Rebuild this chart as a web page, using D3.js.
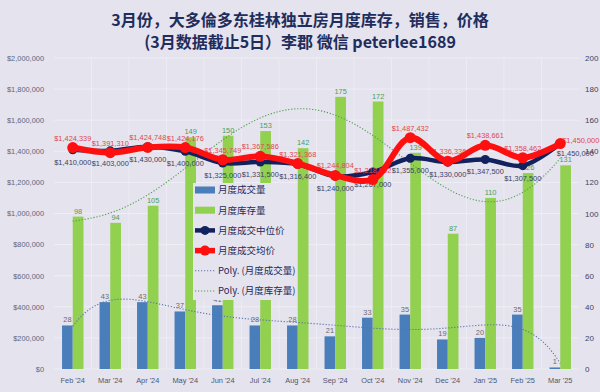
<!DOCTYPE html>
<html>
<head>
<meta charset="utf-8">
<script src="https://cdn.jsdelivr.net/npm/d3@7"></script>
<style>
  body { margin: 0; background: #e5e3ed; }
  svg { display: block; }
</style>
</head>
<body>
<svg id="chart" width="600" height="392"></svg>
<script>
// ---- data ----
const months = ["Feb '24", "Mar '24", "Apr '24", "May '24", "Jun '24", "Jul '24", "Aug '24",
  "Sep '24", "Oct '24", "Nov '24", "Dec '24", "Jan '25", "Feb '25", "Mar '25"];
const sales = [28, 43, 43, 37, 41, 28, 28, 21, 33, 35, 19, 20, 35, 1];
const inventory = [98, 94, 105, 149, 150, 153, 142, 175, 172, 139, 87, 110, 126, 131];
const medianPrice = [1410000, 1403000, 1430000, 1400000, 1325000, 1331500, 1316400,
  1240000, 1267000, 1355000, 1330000, 1347500, 1307500, 1450000];
const avgPrice = [1424339, 1391310, 1424748, 1424176, 1345749, 1367586, 1321368,
  1244804, 1218552, 1487432, 1336336, 1438661, 1358462, 1450000];
const priceTicks = d3.range(0, 2000001, 200000);
const countTicks = d3.range(0, 201, 20);
const titleLines = ["3月份，大多倫多东桂林独立房月度库存，销售，价格",
  "(3月数据截止5日）李郡  微信  peterlee1689"];
const legendLabels = ["月度成交量", "月度库存量", "月度成交中位价", "月度成交均价",
  "Poly. (月度成交量)", "Poly. (月度库存量)"];

const colors = {
  sales: "#4a7ebb",
  inventory: "#92d050",
  median: "#12225e",
  avg: "#ff1010",
  salesTrend: "#5a72a8",
  invTrend: "#4ea04e",
};

const numFont = "'Liberation Sans', sans-serif";
const labelSize = 7.4;

const svg = d3.select("#chart");
const margin = { top: 58, right: 21, bottom: 23, left: 54 };
const W = 600, H = 392;
const plotBottom = H - margin.bottom;

const x = d3.scaleBand().domain(months).range([margin.left, W - margin.right]);
const yPrice = d3.scaleLinear().domain([0, 2000000]).range([plotBottom, margin.top]);
const yCount = d3.scaleLinear().domain([0, 200]).range([plotBottom, margin.top]);
const cx = (m) => x(m) + x.bandwidth() / 2;
const barW = x.bandwidth() / 1.75 / 2;

// ---- gridlines ----
svg.append("g")
  .selectAll("line")
  .data(priceTicks)
  .join("line")
  .attr("x1", margin.left).attr("x2", W - margin.right)
  .attr("y1", (d) => yPrice(d)).attr("y2", (d) => yPrice(d))
  .attr("stroke", "#f1f0f6").attr("stroke-width", 0.8);

svg.append("g")
  .selectAll("line")
  .data(months.slice(1))
  .join("line")
  .attr("x1", (d) => x(d)).attr("x2", (d) => x(d))
  .attr("y1", margin.top).attr("y2", plotBottom)
  .attr("stroke", "#efeef5").attr("stroke-width", 0.8);

// ---- axes ----
const leftAxis = svg.append("g")
  .attr("transform", `translate(${margin.left - 7},0)`)
  .call(d3.axisLeft(yPrice).tickValues(priceTicks).tickSize(0)
    .tickFormat((d) => "$" + d3.format(",")(d)));
const rightAxis = svg.append("g")
  .attr("transform", `translate(${W - margin.right + 3},0)`)
  .call(d3.axisRight(yCount).tickValues(countTicks).tickSize(0));
const bottomAxis = svg.append("g")
  .attr("transform", `translate(0,${plotBottom + 6})`)
  .call(d3.axisBottom(x).tickSize(0));

[leftAxis, rightAxis, bottomAxis].forEach((g) => {
  g.select(".domain").remove();
  g.selectAll("text").attr("font-family", numFont).attr("font-size", 7.4);
});
leftAxis.selectAll("text").attr("fill", "#5d6680");
rightAxis.selectAll("text").attr("fill", "#3c4466").attr("font-size", 8);
bottomAxis.selectAll("text").attr("fill", "#4f5670");

// ---- bars ----
svg.append("g")
  .selectAll("rect")
  .data(sales)
  .join("rect")
  .attr("x", (d, i) => cx(months[i]) - barW)
  .attr("y", (d) => yCount(d))
  .attr("width", barW)
  .attr("height", (d) => plotBottom - yCount(d))
  .attr("fill", colors.sales);

svg.append("g")
  .selectAll("rect")
  .data(inventory)
  .join("rect")
  .attr("x", (d, i) => cx(months[i]))
  .attr("y", (d) => yCount(d))
  .attr("width", barW)
  .attr("height", (d) => plotBottom - yCount(d))
  .attr("fill", colors.inventory);

// bar labels
svg.append("g")
  .selectAll("text")
  .data(sales)
  .join("text")
  .attr("x", (d, i) => cx(months[i]) - barW / 2)
  .attr("y", (d) => yCount(d) - 3)
  .attr("text-anchor", "middle")
  .attr("font-family", numFont).attr("font-size", labelSize)
  .attr("fill", "#6a6a72")
  .text((d) => d);

svg.append("g")
  .selectAll("text")
  .data(inventory)
  .join("text")
  .attr("x", (d, i) => cx(months[i]) + barW / 2)
  .attr("y", (d) => yCount(d) - 3)
  .attr("text-anchor", "middle")
  .attr("font-family", numFont).attr("font-size", labelSize)
  .attr("fill", "#45a05a")
  .text((d) => d);

// ---- polynomial trendlines (least squares, order 6 like Excel) ----
function polyfit(ys, order) {
  const n = ys.length;
  const t = (i) => (i - (n - 1) / 2) / ((n - 1) / 2);
  const m = order + 1;
  const A = Array.from({ length: m }, () => new Array(m + 1).fill(0));
  ys.forEach((yv, i) => {
    const ti = t(i);
    for (let r = 0; r < m; r++) {
      for (let c = 0; c < m; c++) A[r][c] += Math.pow(ti, r + c);
      A[r][m] += yv * Math.pow(ti, r);
    }
  });
  for (let col = 0; col < m; col++) {
    let piv = col;
    for (let r = col + 1; r < m; r++) if (Math.abs(A[r][col]) > Math.abs(A[piv][col])) piv = r;
    [A[col], A[piv]] = [A[piv], A[col]];
    for (let r = 0; r < m; r++) {
      if (r === col) continue;
      const f = A[r][col] / A[col][col];
      for (let c = col; c <= m; c++) A[r][c] -= f * A[col][c];
    }
  }
  const coef = A.map((row, i) => row[m] / row[i]);
  return (i) => coef.reduce((s, c, k) => s + c * Math.pow(t(i), k), 0);
}

const sampleIdx = d3.range(0, months.length - 1 + 1e-9, 0.05);
const xAt = (i) => cx(months[0]) + i * x.step();

[[sales, colors.salesTrend], [inventory, colors.invTrend]].forEach(([series, col]) => {
  const f = polyfit(series, 6);
  svg.append("path")
    .datum(sampleIdx)
    .attr("d", d3.line().x((i) => xAt(i)).y((i) => yCount(f(i))))
    .attr("fill", "none")
    .attr("stroke", col)
    .attr("stroke-width", 1.1)
    .attr("stroke-dasharray", "1.2,1.8");
});

// ---- price lines ----
const priceLine = d3.line()
  .x((d, i) => cx(months[i]))
  .y((d) => yPrice(d))
  .curve(d3.curveCatmullRom.alpha(0.5));

function drawPriceSeries(series, col, width, r) {
  svg.append("path")
    .datum(series)
    .attr("d", priceLine)
    .attr("fill", "none")
    .attr("stroke", col)
    .attr("stroke-width", width)
    .attr("stroke-linejoin", "round");
  svg.append("g")
    .selectAll("circle")
    .data(series)
    .join("circle")
    .attr("cx", (d, i) => cx(months[i]))
    .attr("cy", (d) => yPrice(d))
    .attr("r", r)
    .attr("fill", col);
}

const money = (d) => "$" + d3.format(",")(d);
const last = months.length - 1;

// median labels (below points)
svg.append("g")
  .selectAll("text")
  .data(medianPrice)
  .join("text")
  .attr("x", (d, i) => (i === last ? cx(months[i]) + 15 : cx(months[i])))
  .attr("y", (d, i) => yPrice(d) + (i === last ? 12 : 15))
  .attr("text-anchor", "middle")
  .attr("font-family", numFont).attr("font-size", labelSize)
  .attr("fill", "#3a4266")
  .text(money);

drawPriceSeries(medianPrice, colors.median, 4.5, 4.5);

// average labels (above points)
svg.append("g")
  .selectAll("text")
  .data(avgPrice)
  .join("text")
  .attr("x", (d, i) => (i === last ? cx(months[i]) + 2 : cx(months[i])))
  .attr("y", (d, i) => yPrice(d) - (i === last ? 1 : 7))
  .attr("text-anchor", (d, i) => (i === last ? "start" : "middle"))
  .attr("font-family", numFont).attr("font-size", labelSize)
  .attr("fill", "#e0484f")
  .text(money);

drawPriceSeries(avgPrice, colors.avg, 6, 5.5);

// ---- legend ----
const legend = svg.append("g").attr("transform", "translate(193,183)");
legend.append("rect")
  .attr("x", 0).attr("y", 0).attr("width", 104).attr("height", 117)
  .attr("fill", "#e5e3ed");

legendLabels.forEach((label, i) => {
  const ly = 7 + i * 20.2;
  const g = legend.append("g").attr("transform", `translate(0,${ly})`);
  if (i < 2) {
    g.append("rect").attr("x", 2).attr("y", -3.5).attr("width", 20).attr("height", 7)
      .attr("fill", i === 0 ? colors.sales : colors.inventory);
  } else if (i < 4) {
    const col = i === 2 ? colors.median : colors.avg;
    g.append("line").attr("x1", 2).attr("x2", 22).attr("y1", 0).attr("y2", 0)
      .attr("stroke", col).attr("stroke-width", i === 2 ? 4.5 : 5.5);
    g.append("circle").attr("cx", 12).attr("cy", 0).attr("r", i === 2 ? 4.5 : 5).attr("fill", col);
  } else {
    g.append("line").attr("x1", 2).attr("x2", 22).attr("y1", 0).attr("y2", 0)
      .attr("stroke", i === 4 ? colors.salesTrend : colors.invTrend)
      .attr("stroke-width", 1.1).attr("stroke-dasharray", "1.2,1.8");
  }
  g.append("text")
    .attr("x", 25).attr("y", 0).attr("dy", "0.35em")
    .attr("font-family", "'Noto Sans CJK SC', 'Noto Sans', sans-serif")
    .attr("font-size", 9.5)
    .attr("fill", "#1f2a5a")
    .text(label);
});

// ---- title ----
svg.append("g")
  .selectAll("text")
  .data(titleLines)
  .join("text")
  .attr("x", W / 2)
  .attr("y", (d, i) => 26 + i * 22)
  .attr("text-anchor", "middle")
  .attr("font-family", "'Noto Sans CJK SC', sans-serif")
  .attr("font-weight", "bold")
  .attr("font-size", 16)
  .attr("fill", "#1f2d5c")
  .text((d) => d);
</script>
</body>
</html>
